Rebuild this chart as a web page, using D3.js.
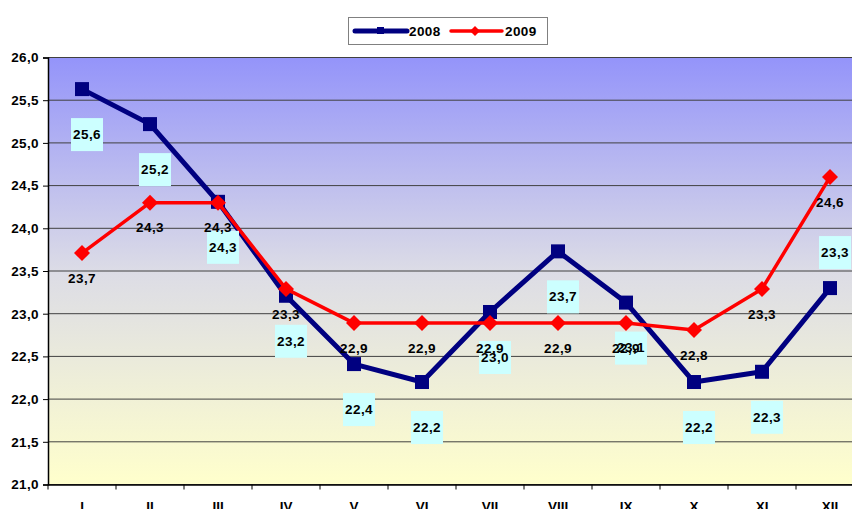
<!DOCTYPE html>
<html>
<head>
<meta charset="utf-8">
<script src="https://cdn.jsdelivr.net/npm/d3@7"></script>
<style>
  body { margin: 0; background: #fff; overflow: hidden; }
  text { font-family: "Liberation Sans", Arial, sans-serif; font-weight: bold; }
</style>
</head>
<body>
<script>
// chart data
const months = ['I', 'II', 'III', 'IV', 'V', 'VI', 'VII', 'VIII', 'IX', 'X', 'XI', 'XII'];
const values2008 = [25.63, 25.22, 24.31, 23.21, 22.41, 22.2, 23.02, 23.73, 23.13, 22.2, 22.32, 23.3];
const values2009 = [23.71, 24.3, 24.3, 23.29, 22.89, 22.89, 22.89, 22.89, 22.89, 22.81, 23.29, 24.6];
const seriesNames = ['2008', '2009'];
const yTicks = [21, 21.5, 22, 22.5, 23, 23.5, 24, 24.5, 25, 25.5, 26];

const width = 852, height = 509;
const margin = { top: 57.5, left: 48, bottom: 24.5 };
const plotRight = 864;

const fmt = v => d3.format('.1f')(v).replace('.', ',');

const x = d3.scaleBand().domain(months).range([margin.left, plotRight]);
const y = d3.scaleLinear().domain([21, 26]).range([height - margin.bottom, margin.top]);

const svg = d3.select('body').append('svg')
    .attr('width', width)
    .attr('height', height);

const defs = svg.append('defs');
const grad = defs.append('linearGradient')
    .attr('id', 'bg')
    .attr('x1', 0).attr('y1', 0).attr('x2', 0).attr('y2', 1);
grad.append('stop').attr('offset', '0%').attr('stop-color', '#9494fa');
grad.append('stop').attr('offset', '50%').attr('stop-color', '#dcdce6');
grad.append('stop').attr('offset', '100%').attr('stop-color', '#ffffcc');

// plot background
svg.append('rect')
    .attr('x', margin.left)
    .attr('y', y(26))
    .attr('width', plotRight - margin.left)
    .attr('height', y(21) - y(26))
    .attr('fill', 'url(#bg)');

// gridlines
svg.append('g')
    .selectAll('line')
    .data(yTicks)
    .join('line')
    .attr('x1', margin.left)
    .attr('x2', plotRight)
    .attr('y1', d => y(d))
    .attr('y2', d => y(d))
    .attr('stroke', '#404040')
    .attr('stroke-width', 1);

const labelFont = 13.5;

// axes
const yAxis = d3.axisLeft(y).tickValues(yTicks).tickFormat(fmt).tickSize(5).tickPadding(4);
const gy = svg.append('g')
    .attr('transform', `translate(${margin.left},0)`)
    .call(yAxis);
gy.select('.domain').attr('stroke', '#000').attr('stroke-width', 1.5);
gy.selectAll('.tick line').attr('stroke', '#000');
gy.selectAll('.tick text')
    .attr('font-size', labelFont)
    .attr('letter-spacing', 0.4)
    .attr('font-family', '"Liberation Sans", Arial, sans-serif')
    .attr('font-weight', 'bold')
    .attr('fill', '#000');

const xAxis = d3.axisBottom(x).tickSize(0).tickPadding(17);
const gx = svg.append('g')
    .attr('transform', `translate(0,${y(21)})`)
    .call(xAxis);
gx.select('.domain').attr('stroke', '#000').attr('stroke-width', 1.5);
gx.selectAll('.tick text')
    .attr('font-size', labelFont)
    .attr('font-family', '"Liberation Sans", Arial, sans-serif')
    .attr('font-weight', 'bold')
    .attr('fill', '#000');
// category boundary ticks
gx.append('g')
    .selectAll('line')
    .data(months)
    .join('line')
    .attr('x1', d => x(d))
    .attr('x2', d => x(d))
    .attr('y1', 0)
    .attr('y2', 5)
    .attr('stroke', '#000');

const cx = d => x(d) + x.bandwidth() / 2;

const line2008 = d3.line().x((d, i) => cx(months[i])).y(d => y(d));
const line2009 = d3.line().x((d, i) => cx(months[i])).y(d => y(d));

// 2008 series
svg.append('path')
    .datum(values2008)
    .attr('fill', 'none')
    .attr('stroke', '#000080')
    .attr('stroke-width', 5)
    .attr('stroke-linejoin', 'round')
    .attr('d', line2008);

svg.append('g')
    .selectAll('rect')
    .data(values2008)
    .join('rect')
    .attr('x', (d, i) => cx(months[i]) - 7)
    .attr('y', d => y(d) - 7)
    .attr('width', 14)
    .attr('height', 14)
    .attr('fill', '#000080');

// 2009 series
svg.append('path')
    .datum(values2009)
    .attr('fill', 'none')
    .attr('stroke', '#ff0000')
    .attr('stroke-width', 3.5)
    .attr('stroke-linejoin', 'round')
    .attr('d', line2009);

svg.append('g')
    .selectAll('path')
    .data(values2009)
    .join('path')
    .attr('transform', (d, i) => `translate(${cx(months[i])},${y(d)})`)
    .attr('d', 'M0,-8L8,0L0,8L-8,0Z')
    .attr('fill', '#ff0000');

// 2008 labels (cyan boxes, below the point, last one above)
const lab08 = svg.append('g')
    .selectAll('g')
    .data(values2008)
    .join('g')
    .attr('transform', (d, i) => {
        const dy = i === values2008.length - 1 ? -36 : 45;
        return `translate(${cx(months[i]) + 5},${y(d) + dy})`;
    });
lab08.append('rect')
    .attr('x', -16).attr('y', -16)
    .attr('width', 32).attr('height', 33)
    .attr('fill', '#ccffff');
lab08.append('text')
    .attr('text-anchor', 'middle')
    .attr('dy', '0.35em')
    .attr('font-size', labelFont)
    .attr('letter-spacing', 0.4)
    .text(fmt);

// 2009 labels
svg.append('g')
    .selectAll('text')
    .data(values2009)
    .join('text')
    .attr('x', (d, i) => cx(months[i]))
    .attr('y', d => y(d) + 25)
    .attr('text-anchor', 'middle')
    .attr('dy', '0.35em')
    .attr('font-size', labelFont)
    .attr('letter-spacing', 0.4)
    .text(fmt);

// legend
const legend = svg.append('g');
legend.append('rect')
    .attr('x', 348.5).attr('y', 17.5)
    .attr('width', 199).attr('height', 27)
    .attr('fill', '#fff')
    .attr('stroke', '#808080');
legend.append('line')
    .attr('x1', 355).attr('x2', 407).attr('y1', 31).attr('y2', 31)
    .attr('stroke', '#000080').attr('stroke-width', 5).attr('stroke-linecap', 'round');
legend.append('rect')
    .attr('x', 377).attr('y', 27).attr('width', 7).attr('height', 7)
    .attr('fill', '#000080');
legend.append('text')
    .attr('x', 409).attr('y', 36)
    .attr('font-size', labelFont)
    .attr('letter-spacing', 0.4)
    .text(seriesNames[0]);
legend.append('line')
    .attr('x1', 451).attr('x2', 502).attr('y1', 31).attr('y2', 31)
    .attr('stroke', '#ff0000').attr('stroke-width', 3.5).attr('stroke-linecap', 'round');
legend.append('path')
    .attr('transform', 'translate(475,31)')
    .attr('d', 'M0,-5L5,0L0,5L-5,0Z')
    .attr('fill', '#ff0000');
legend.append('text')
    .attr('x', 505).attr('y', 36)
    .attr('font-size', labelFont)
    .attr('letter-spacing', 0.4)
    .text(seriesNames[1]);
</script>
</body>
</html>
